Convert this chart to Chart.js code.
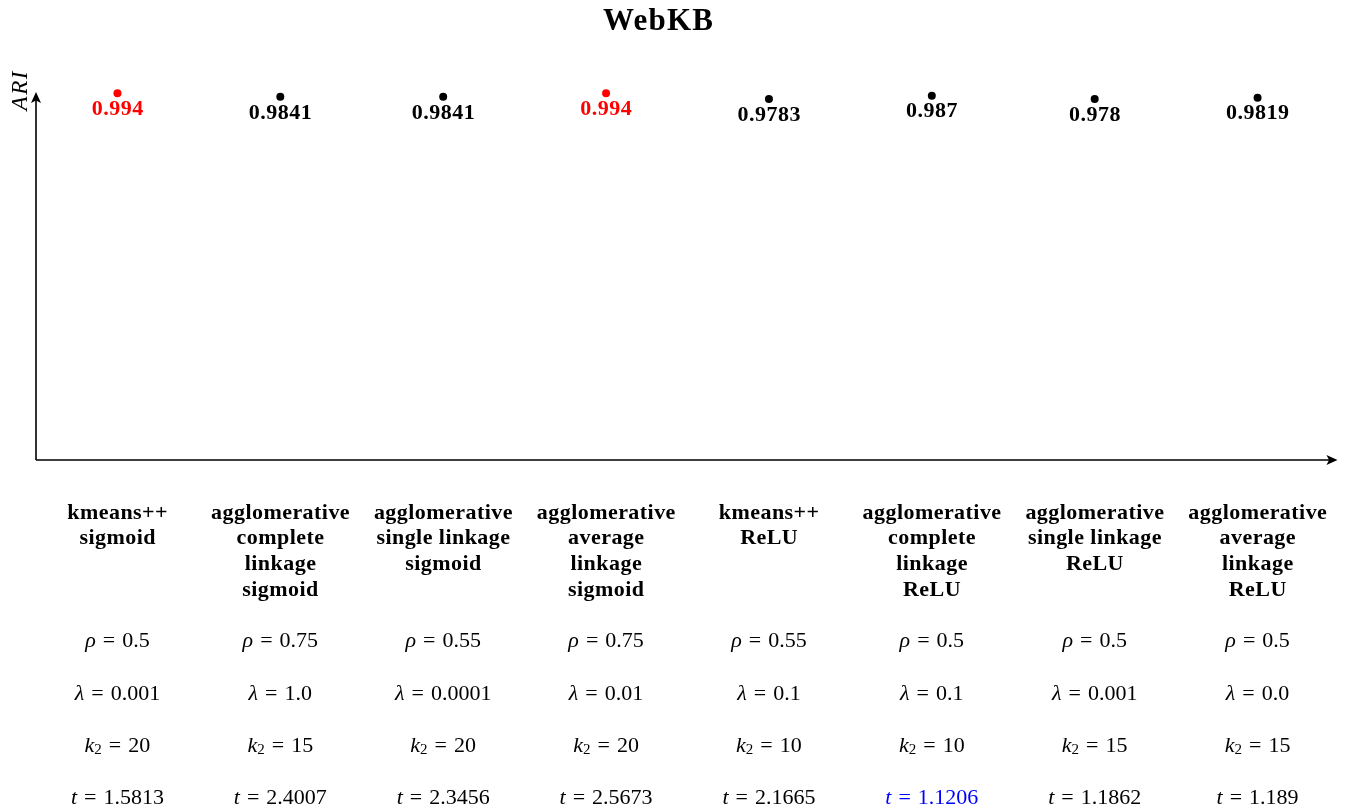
<!DOCTYPE html>
<html>
<head>
<meta charset="utf-8">
<script src="https://cdn.jsdelivr.net/npm/chart.js@4"></script>
<style>
  html, body { margin: 0; padding: 0; background: #fff; }
  #wrap { width: 1348px; height: 812px; position: relative; }
</style>
</head>
<body>
<div id="wrap"><canvas id="c"></canvas></div>
<script>
// Clustering methods (one entry per column, split into display lines)
const methods = [
  ["kmeans++", "sigmoid"],
  ["agglomerative", "complete", "linkage", "sigmoid"],
  ["agglomerative", "single linkage", "sigmoid"],
  ["agglomerative", "average", "linkage", "sigmoid"],
  ["kmeans++", "ReLU"],
  ["agglomerative", "complete", "linkage", "ReLU"],
  ["agglomerative", "single linkage", "ReLU"],
  ["agglomerative", "average", "linkage", "ReLU"]
];
// Adjusted Rand Index per method
const ari = [0.994, 0.9841, 0.9841, 0.994, 0.9783, 0.987, 0.978, 0.9819];
// Hyper-parameters and run time per method
const rho = ["0.5", "0.75", "0.55", "0.75", "0.55", "0.5", "0.5", "0.5"];
const lambda = ["0.001", "1.0", "0.0001", "0.01", "0.1", "0.1", "0.001", "0.0"];
const k2 = ["20", "15", "20", "20", "10", "10", "15", "15"];
const runTime = ["1.5813", "2.4007", "2.3456", "2.5673", "2.1665", "1.1206", "1.1862", "1.189"];

const SERIF = '"Liberation Serif", "DejaVu Serif", serif';
const bestAri = Math.max(...ari);
const fastest = Math.min(...runTime.map(Number));
const pointColors = ari.map(v => v === bestAri ? '#ff0000' : '#000000');

// Draw text centred on x with extra letter spacing
function spacedText(ctx, text, cx, cy, spacing) {
  ctx.letterSpacing = spacing + 'px';
  ctx.textAlign = 'center';
  ctx.textBaseline = 'middle';
  ctx.fillText(text, cx + spacing / 2, cy);
  ctx.letterSpacing = '0px';
}

// Draw a sequence of text runs (with optional gaps) centred on x
function drawRuns(ctx, runs, cx, cy, color) {
  let total = 0;
  runs.forEach(r => {
    ctx.font = r.font;
    total += ctx.measureText(r.text).width + (r.padL || 0) + (r.padR || 0);
  });
  let x = cx - total / 2;
  ctx.fillStyle = color;
  ctx.textAlign = 'left';
  ctx.textBaseline = 'middle';
  ctx.letterSpacing = '0px';
  runs.forEach(r => {
    ctx.font = r.font;
    x += r.padL || 0;
    ctx.fillText(r.text, x, cy + (r.dy || 0));
    x += ctx.measureText(r.text).width + (r.padR || 0);
  });
}

const decorations = {
  id: 'decorations',
  afterDatasetsDraw(chart) {
    const ctx = chart.ctx;
    const xs = chart.scales.x, ys = chart.scales.y;
    const area = chart.chartArea;
    ctx.save();

    // Title
    ctx.fillStyle = '#000';
    ctx.font = 'bold 31px ' + SERIF;
    spacedText(ctx, 'WebKB', 658, 22, 1.2);

    // Axes with arrow heads
    const x0 = area.left, y0 = area.bottom;
    ctx.strokeStyle = '#000';
    ctx.lineWidth = 1.6;
    ctx.beginPath();
    ctx.moveTo(x0, y0);
    ctx.lineTo(area.right - 8, y0);
    ctx.moveTo(x0, y0);
    ctx.lineTo(x0, area.top + 8);
    ctx.stroke();
    ctx.fillStyle = '#000';
    ctx.beginPath();
    ctx.moveTo(area.right - 1.5, y0);
    ctx.lineTo(area.right - 12.5, y0 - 5);
    ctx.lineTo(area.right - 10, y0);
    ctx.lineTo(area.right - 12.5, y0 + 5);
    ctx.closePath();
    ctx.fill();
    ctx.beginPath();
    ctx.moveTo(x0, area.top + 1);
    ctx.lineTo(x0 - 5, area.top + 12);
    ctx.lineTo(x0, area.top + 9.5);
    ctx.lineTo(x0 + 5, area.top + 12);
    ctx.closePath();
    ctx.fill();

    // Axis label
    ctx.save();
    ctx.translate(21, 91);
    ctx.rotate(-Math.PI / 2);
    ctx.font = 'italic 23px ' + SERIF;
    ctx.fillStyle = '#000';
    spacedText(ctx, 'ARI', 0, 0, 1.5);
    ctx.restore();

    ari.forEach((v, i) => {
      const px = xs.getPixelForValue(i);
      const py = ys.getPixelForValue(v);
      // value label under the point
      ctx.font = 'bold 22px ' + SERIF;
      ctx.fillStyle = pointColors[i];
      spacedText(ctx, String(v), px, py + 16, 0.5);

      // method name
      ctx.fillStyle = '#000';
      ctx.font = 'bold 22px ' + SERIF;
      methods[i].forEach((line, j) => {
        spacedText(ctx, line, px, 513 + j * 25.7, 0.45);
      });

      const reg = '22px ' + SERIF;
      const it = 'italic 22px ' + SERIF;
      const sub = '15px ' + SERIF;
      const eq = v2 => [{ text: '=', font: reg, padL: 7, padR: 7 }, { text: v2, font: reg }];
      drawRuns(ctx, [{ text: 'ρ', font: it }, ...eq(rho[i])], px, 641.5, '#000');
      drawRuns(ctx, [{ text: 'λ', font: it }, ...eq(lambda[i])], px, 694.5, '#000');
      drawRuns(ctx, [{ text: 'k', font: it }, { text: '2', font: sub, dy: 4 }, ...eq(k2[i])], px, 746.5, '#000');
      const tc = Number(runTime[i]) === fastest ? '#0000ff' : '#000';
      drawRuns(ctx, [{ text: 't', font: it }, ...eq(runTime[i])], px, 798.5, tc);
    });
    ctx.restore();
  }
};

new Chart(document.getElementById('c'), {
  type: 'line',
  data: {
    labels: methods.map(m => m.join(' ')),
    datasets: [{
      label: 'ARI',
      data: ari,
      showLine: false,
      clip: false,
      pointRadius: 4,
      pointHoverRadius: 4,
      pointBackgroundColor: pointColors,
      pointBorderColor: pointColors,
      pointBorderWidth: 0
    }]
  },
  options: {
    responsive: true,
    maintainAspectRatio: false,
    animation: false,
    events: [],
    layout: { padding: { left: 36, right: 9, top: 91, bottom: 352 } },
    plugins: {
      legend: { display: false },
      title: { display: false },
      tooltip: { enabled: false }
    },
    scales: {
      x: { type: 'category', offset: true, display: false },
      y: { min: 0, max: 1, display: false }
    }
  },
  plugins: [decorations]
});
</script>
</body>
</html>
